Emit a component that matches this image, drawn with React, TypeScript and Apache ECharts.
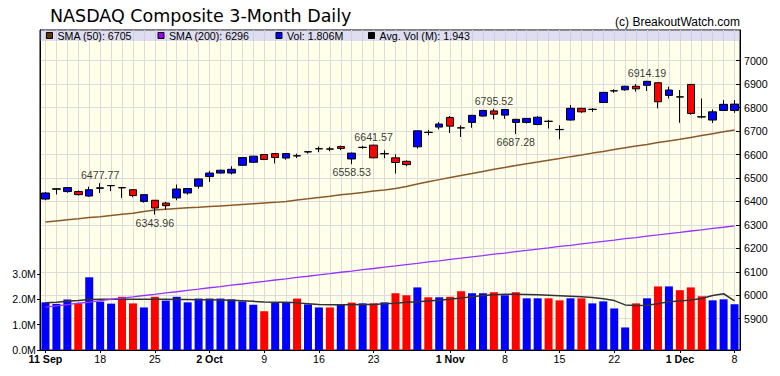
import React, { useEffect, useRef } from 'react';
import * as echarts from 'echarts';

const dates = [
  '2017-09-11','2017-09-12','2017-09-13','2017-09-14','2017-09-15','2017-09-18','2017-09-19','2017-09-20','2017-09-21','2017-09-22',
  '2017-09-25','2017-09-26','2017-09-27','2017-09-28','2017-09-29','2017-10-02','2017-10-03','2017-10-04','2017-10-05','2017-10-06',
  '2017-10-09','2017-10-10','2017-10-11','2017-10-12','2017-10-13','2017-10-16','2017-10-17','2017-10-18','2017-10-19','2017-10-20',
  '2017-10-23','2017-10-24','2017-10-25','2017-10-26','2017-10-27','2017-10-30','2017-10-31','2017-11-01','2017-11-02','2017-11-03',
  '2017-11-06','2017-11-07','2017-11-08','2017-11-09','2017-11-10','2017-11-13','2017-11-14','2017-11-15','2017-11-16','2017-11-17',
  '2017-11-20','2017-11-21','2017-11-22','2017-11-24','2017-11-27','2017-11-28','2017-11-29','2017-11-30','2017-12-01','2017-12-04',
  '2017-12-05','2017-12-06','2017-12-07','2017-12-08'
];

const opens = [
  6410, 6452, 6442, 6442, 6423, 6456, 6467, 6459, 6450, 6400,
  6405, 6393, 6415, 6436, 6465, 6506, 6521, 6521, 6554, 6567,
  6600, 6604, 6585, 6595, 6611, 6624, 6624, 6634, 6581, 6630,
  6640, 6603, 6586, 6571, 6633, 6695, 6717, 6758, 6714, 6737,
  6764, 6786, 6768, 6737, 6737, 6728, 6742, 6707, 6747, 6797,
  6792, 6822, 6871, 6876, 6891, 6895, 6906, 6852, 6846, 6899,
  6761, 6747, 6788, 6788
];
const closes = [
  6436, 6454, 6459, 6429, 6450, 6458, 6468, 6458, 6425, 6429,
  6372, 6382, 6453, 6455, 6496, 6521, 6533, 6537, 6587, 6593,
  6579, 6587, 6604, 6594, 6612, 6625, 6623, 6626, 6606, 6631,
  6586, 6604, 6566, 6557, 6701, 6694, 6730, 6721, 6713, 6767,
  6788, 6772, 6792, 6750, 6754, 6759, 6741, 6706, 6797, 6782,
  6793, 6865, 6872, 6891, 6880, 6912, 6825, 6875, 6845, 6775,
  6760, 6782, 6814, 6815
];
const lows = [
  6405, 6430, 6437, 6425, 6420, 6436, 6444, 6415, 6418, 6395,
  6343.96, 6365, 6405, 6429, 6455, 6483, 6519, 6515, 6552, 6565,
  6576, 6562, 6578, 6585, 6604, 6610, 6614, 6619, 6558.53, 6625,
  6584, 6584, 6519, 6550, 6626, 6682, 6707, 6692, 6675, 6714,
  6762, 6750, 6752, 6687.28, 6732, 6725, 6711, 6665, 6745, 6778,
  6782, 6820, 6863, 6872, 6868, 6871, 6797, 6839, 6735, 6770,
  6754, 6735, 6786, 6778
];
const highs = [
  6440, 6456, 6461, 6447, 6463, 6477.77, 6470, 6462, 6451, 6430,
  6406, 6398, 6472, 6457, 6497, 6530, 6536, 6550, 6588, 6594,
  6601, 6605, 6606, 6604, 6615, 6634, 6633, 6638, 6608, 6637,
  6641.57, 6618, 6601, 6575, 6702, 6705, 6738, 6764, 6724, 6768,
  6790, 6795.52, 6794, 6752, 6756, 6764, 6748, 6725, 6811, 6799,
  6798, 6867, 6878, 6893, 6900, 6914.19, 6907, 6889, 6875, 6900,
  6839, 6792, 6832, 6832
];

const volumes = [
  1.88, 1.82, 1.99, 1.84, 2.87, 1.91, 1.83, 2.10, 1.84, 1.68,
  2.10, 1.95, 2.10, 1.88, 2.03, 2.03, 2.03, 2.00, 1.92, 1.79,
  1.53, 1.86, 1.88, 2.03, 1.80, 1.68, 1.68, 1.79, 1.87, 1.84,
  1.84, 1.88, 2.24, 2.16, 2.47, 2.08, 2.08, 2.10, 2.32, 2.24,
  2.24, 2.28, 2.16, 2.28, 2.04, 2.04, 2.04, 1.96, 2.04, 2.04,
  1.84, 1.92, 1.64, 0.89, 1.84, 2.04, 2.51, 2.51, 2.36, 2.47,
  2.12, 1.96, 2.00, 1.806
];
const volUp = [
  1, 1, 1, 0, 1, 1, 1, 0, 0, 1,
  0, 1, 1, 1, 1, 1, 1, 1, 1, 1,
  0, 1, 1, 0, 1, 1, 0, 1, 0, 1,
  0, 1, 0, 0, 1, 0, 1, 0, 0, 1,
  1, 0, 1, 0, 1, 1, 0, 0, 1, 0,
  1, 1, 1, 1, 0, 1, 0, 1, 0, 0,
  0, 1, 1, 1
];
const avgVol = [
  1.86, 1.88, 1.92, 1.95, 1.99, 2.00, 2.00, 2.00, 2.00, 2.00,
  2.00, 2.00, 1.99, 1.99, 1.98, 1.98, 1.97, 1.96, 1.94, 1.92,
  1.89, 1.88, 1.88, 1.86, 1.83, 1.80, 1.79, 1.79, 1.79, 1.80,
  1.80, 1.83, 1.85, 1.88, 1.90, 1.93, 1.96, 2.00, 2.05, 2.10,
  2.15, 2.18, 2.20, 2.20, 2.19, 2.18, 2.16, 2.14, 2.12, 2.10,
  2.07, 2.02, 1.95, 1.78, 1.76, 1.77, 1.83, 1.90, 1.93, 1.97,
  2.03, 2.15, 2.22, 1.943
];
const sma50 = [
  6312, 6317, 6322, 6326, 6331, 6335, 6340, 6345, 6350, 6357,
  6363, 6367, 6370, 6373, 6375, 6378, 6381, 6384, 6387, 6390,
  6393, 6396, 6400, 6406, 6411, 6417, 6422, 6428, 6433, 6438,
  6444, 6449, 6455, 6464, 6474, 6484, 6493, 6502, 6511, 6519,
  6528, 6537, 6545, 6553, 6561, 6568, 6576, 6583, 6591, 6598,
  6606, 6613, 6621, 6629, 6636, 6643, 6651, 6658, 6665, 6673,
  6681, 6689, 6697, 6705
];
const sma200 = [
  5949, 5955, 5960, 5966, 5971, 5977, 5982, 5988, 5993, 5999,
  6004, 6010, 6015, 6021, 6026, 6032, 6037, 6043, 6048, 6054,
  6059, 6065, 6070, 6076, 6081, 6087, 6092, 6098, 6103, 6109,
  6114, 6120, 6125, 6131, 6136, 6142, 6147, 6153, 6158, 6164,
  6169, 6175, 6180, 6186, 6191, 6197, 6202, 6208, 6213, 6219,
  6224, 6230, 6235, 6241, 6246, 6252, 6257, 6263, 6268, 6274,
  6279, 6285, 6290, 6296
];

const tickDates = ['2017-09-11','2017-09-18','2017-09-25','2017-10-02','2017-10-09','2017-10-16','2017-10-23','2017-11-01','2017-11-08','2017-11-15','2017-11-22','2017-12-01','2017-12-08'];
const tickTexts = ['11 Sep','18','25','2 Oct','9','16','23','1 Nov','8','15','22','1 Dec','8'];
const tickBold = [true,false,false,true,false,false,false,true,false,false,false,true,false];
const priceTicks = [5900, 6000, 6100, 6200, 6300, 6400, 6500, 6600, 6700, 6800, 6900, 7000];
const volTicks = [0, 1, 2, 3];
const peakDays = [5, 30, 41, 55];
const troughDays = [10, 28, 43];

const PRICE_MIN = 5766.6;
const PRICE_MAX = 7130.9;
const VOL_MAX = 12.63;

const FONT = '"Liberation Sans", Arial, sans-serif';
const SMALL = 10.67;

export default function App() {
  const ref = useRef<HTMLDivElement>(null);
  useEffect(() => {
    if (!ref.current) return;
    const chart = echarts.init(ref.current, undefined, { renderer: 'svg' });
    const tickIndex = new Set(tickDates.map((d) => dates.indexOf(d)));
    const last = dates.length - 1;
    const legendItems = [
      { color: '#663300', text: `SMA (50): ${Math.round(sma50[last])}`, x: 46 },
      { color: '#9900FF', text: `SMA (200): ${Math.round(sma200[last])}`, x: 157.5 },
      { color: '#0000FF', text: `Vol: ${volumes[last].toFixed(3)}M`, x: 275.5 },
      { color: '#000000', text: `Avg. Vol (M): ${avgVol[last].toFixed(3)}`, x: 368 },
    ];
    const graphic: any[] = [
      { type: 'rect', shape: { x: 40.5, y: 30.5, width: 699, height: 10.5 }, style: { fill: 'rgba(190,190,245,0.5)' }, z: 10, silent: true },
      { type: 'text', x: 50, y: 16, style: { text: 'NASDAQ Composite 3-Month Daily', fontSize: 17.5, fontFamily: '"DejaVu Sans", sans-serif', fill: '#000', textVerticalAlign: 'middle' }, z: 10 },
      { type: 'text', x: 740, y: 22, style: { text: '(c) BreakoutWatch.com', fontSize: 12, fontFamily: FONT, fill: '#000', textAlign: 'right', textVerticalAlign: 'middle' }, z: 10 },
    ];
    legendItems.forEach((it) => {
      graphic.push({ type: 'rect', shape: { x: it.x + 0.5, y: 32.5, width: 6, height: 6 }, style: { fill: it.color, stroke: '#000', lineWidth: 1 }, z: 11 });
      graphic.push({ type: 'text', x: it.x + 11.5, y: 36, style: { text: it.text, fontSize: SMALL, fontFamily: FONT, fill: '#000', textVerticalAlign: 'middle' }, z: 11 });
    });

    const option: any = {
      animation: false,
      backgroundColor: '#ffffff',
      textStyle: { fontFamily: FONT },
      graphic,
      grid: [
        { left: 40, right: 40, top: 30, bottom: 26, show: true, backgroundColor: '#FFFFEA', borderColor: '#000', borderWidth: 1 },
        { left: 45.47, right: 45.47, top: 30, bottom: 26, show: false },
      ],
      xAxis: [
        {
          type: 'category', gridIndex: 0, data: dates, boundaryGap: true,
          axisLine: { show: true, lineStyle: { color: '#000' } },
          axisTick: { show: true, alignWithLabel: true, length: 3, interval: (i: number) => tickIndex.has(i), lineStyle: { color: '#000' } },
          axisLabel: {
            interval: (i: number) => tickIndex.has(i),
            margin: 3,
            color: '#000',
            fontSize: SMALL,
            formatter: (v: string) => {
              const k = tickDates.indexOf(v);
              if (k < 0) return '';
              return tickBold[k] ? `{b|${tickTexts[k]}}` : `{n|${tickTexts[k]}}`;
            },
            rich: {
              b: { fontWeight: 'bold', fontSize: SMALL, fontFamily: FONT, color: '#000' },
              n: { fontSize: SMALL, fontFamily: FONT, color: '#000' },
            },
          },
          splitLine: { show: false },
        },
        {
          type: 'value', gridIndex: 1, min: 0, max: dates.length - 1, interval: 1,
          axisLine: { show: false }, axisTick: { show: false }, axisLabel: { show: false },
          splitLine: { show: true, lineStyle: { color: '#DCDCDC', width: 1 } },
        },
      ],
      yAxis: [
        {
          type: 'value', gridIndex: 0, position: 'right', min: PRICE_MIN, max: PRICE_MAX,
          axisLine: { show: true, lineStyle: { color: '#000' } },
          axisTick: { show: true, inside: true, length: 4, customValues: priceTicks, lineStyle: { color: '#000' } },
          axisLabel: { customValues: priceTicks, margin: 4, color: '#000', fontSize: SMALL, fontFamily: FONT, formatter: (v: number) => String(Math.round(v)) },
          splitLine: { show: true, lineStyle: { color: '#DCDCDC', width: 1 } },
        },
        {
          type: 'value', gridIndex: 0, position: 'left', min: 0, max: VOL_MAX,
          axisLine: { show: true, lineStyle: { color: '#000' } },
          axisTick: { show: true, length: 3, customValues: volTicks, lineStyle: { color: '#000' } },
          axisLabel: { customValues: volTicks, margin: 4, color: '#000', fontSize: SMALL, fontFamily: FONT, formatter: (v: number) => v.toFixed(1) + 'M' },
          splitLine: { show: false },
        },
        { type: 'value', gridIndex: 1, show: false, min: 0, max: 1 },
      ],
      series: [
        {
          name: 'Vol', type: 'bar', xAxisIndex: 0, yAxisIndex: 1, barWidth: 8, z: 2,
          data: volumes.map((v, i) => ({ value: v, itemStyle: { color: volUp[i] ? '#0000FF' : '#FF0000' } })),
        },
        {
          name: 'Avg Vol', type: 'line', xAxisIndex: 0, yAxisIndex: 1, data: avgVol, showSymbol: false, z: 3,
          lineStyle: { color: '#333333', width: 1.5 },
        },
        {
          name: 'SMA200', type: 'line', xAxisIndex: 0, yAxisIndex: 0, data: sma200, showSymbol: false, z: 3,
          lineStyle: { color: '#9933FF', width: 1.3 },
        },
        {
          name: 'SMA50', type: 'line', xAxisIndex: 0, yAxisIndex: 0, data: sma50, showSymbol: false, z: 3,
          lineStyle: { color: '#8B5A2B', width: 1.5 },
        },
        {
          name: 'Price', type: 'candlestick', xAxisIndex: 0, yAxisIndex: 0, barWidth: 8, z: 4,
          data: opens.map((o, i) => [o, closes[i], lows[i], highs[i]]),
          itemStyle: { color: '#0000FF', color0: '#FF0000', borderColor: '#000', borderColor0: '#000', borderColorDoji: '#000', borderWidth: 1 },
        },
        {
          name: 'Peaks', type: 'scatter', xAxisIndex: 0, yAxisIndex: 0, symbolSize: 1, z: 5,
          itemStyle: { color: 'rgba(0,0,0,0)' },
          data: peakDays.map((d) => [d, highs[d]]),
          label: { show: true, position: 'top', distance: 2, color: '#000', fontSize: SMALL, fontFamily: FONT, formatter: (p: any) => p.value[1].toFixed(2) },
        },
        {
          name: 'Troughs', type: 'scatter', xAxisIndex: 0, yAxisIndex: 0, symbolSize: 1, z: 5,
          itemStyle: { color: 'rgba(0,0,0,0)' },
          data: troughDays.map((d) => [d, lows[d]]),
          label: { show: true, position: 'bottom', distance: 2, color: '#000', fontSize: SMALL, fontFamily: FONT, formatter: (p: any) => p.value[1].toFixed(2) },
        },
      ],
    };
    chart.setOption(option);
    return () => chart.dispose();
  }, []);
  return <div ref={ref} style={{ position: 'fixed', left: 0, top: 0, width: 780, height: 376 }} />;
}
